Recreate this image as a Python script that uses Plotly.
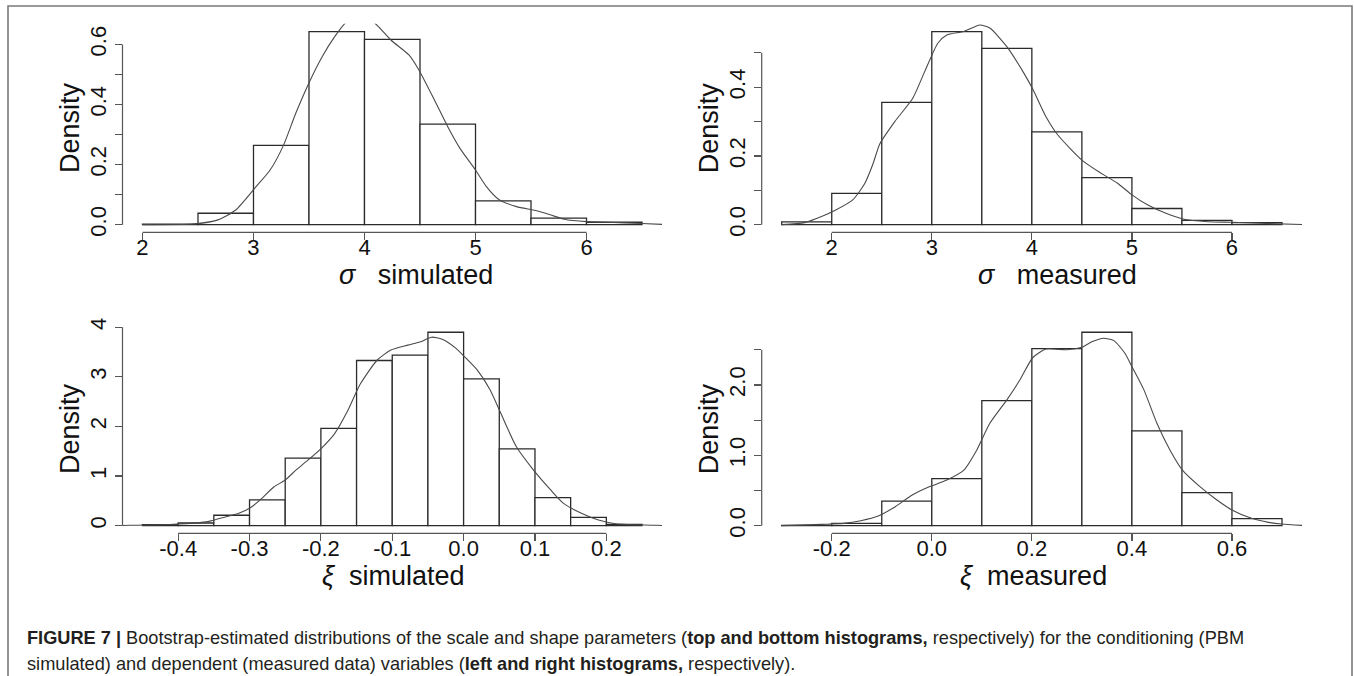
import plotly.graph_objects as go

W, H = 1354, 676

# ---------------- data ----------------
# sigma simulated (top-left)
sig_sim_edges = [2.0, 2.5, 3.0, 3.5, 4.0, 4.5, 5.0, 5.5, 6.0, 6.5]
sig_sim_dens = [0.002, 0.038, 0.264, 0.643, 0.617, 0.335, 0.079, 0.022, 0.008]
sig_sim_kde_x = [2.0, 2.45, 2.68, 2.84, 3.01, 3.15, 3.27, 3.38, 3.51, 3.62, 3.73, 3.83, 3.96,
                 4.09, 4.24, 4.40, 4.49, 4.63, 4.75, 4.86, 5.00, 5.10, 5.21, 5.37, 5.54, 5.68,
                 5.80, 6.00, 6.19, 6.50, 6.75]
sig_sim_kde_y = [0.0, 0.002, 0.016, 0.049, 0.121, 0.182, 0.264, 0.37, 0.48, 0.56, 0.625, 0.672, 0.70,
                 0.672, 0.614, 0.565, 0.515, 0.415, 0.326, 0.254, 0.182, 0.126, 0.084, 0.060, 0.047,
                 0.032, 0.018, 0.010, 0.008, 0.004, 0.0]
sig_sim_xticks = [2, 3, 4, 5, 6]
sig_sim_xlabels = ["2", "3", "4", "5", "6"]
sig_sim_yticks = [0.0, 0.1, 0.2, 0.3, 0.4, 0.5, 0.6]
sig_sim_ylabels = ["0.0", "", "0.2", "", "0.4", "", "0.6"]

# sigma measured (top-right)
sig_mea_edges = [1.5, 2.0, 2.5, 3.0, 3.5, 4.0, 4.5, 5.0, 5.5, 6.0, 6.5]
sig_mea_dens = [0.008, 0.091, 0.356, 0.562, 0.513, 0.270, 0.137, 0.047, 0.0126, 0.006]
sig_mea_kde_x = [1.50, 1.73, 1.91, 2.03, 2.21, 2.33, 2.41, 2.48, 2.63, 2.81, 2.93, 3.06, 3.15, 3.32,
                 3.48, 3.58, 3.75, 3.92, 4.01, 4.14, 4.26, 4.50, 4.69, 4.86, 4.99, 5.16, 5.34, 5.51,
                 5.76, 6.00, 6.28, 6.75]
sig_mea_kde_y = [0.0, 0.006, 0.025, 0.041, 0.072, 0.12, 0.175, 0.235, 0.30, 0.368, 0.446, 0.528, 0.552,
                 0.562, 0.581, 0.572, 0.518, 0.441, 0.394, 0.315, 0.261, 0.188, 0.150, 0.120, 0.089,
                 0.057, 0.033, 0.0165, 0.0087, 0.007, 0.004, 0.0]
sig_mea_xticks = [2, 3, 4, 5, 6]
sig_mea_xlabels = ["2", "3", "4", "5", "6"]
sig_mea_yticks = [0.0, 0.1, 0.2, 0.3, 0.4, 0.5]
sig_mea_ylabels = ["0.0", "", "0.2", "", "0.4", ""]

# xi simulated (bottom-left)
xi_sim_edges = [-0.45, -0.40, -0.35, -0.30, -0.25, -0.20, -0.15, -0.10, -0.05, 0.0, 0.05, 0.10,
                0.15, 0.20, 0.25]
xi_sim_dens = [0.02, 0.054, 0.21, 0.52, 1.36, 1.96, 3.33, 3.44, 3.90, 2.96, 1.55, 0.565, 0.168, 0.027]
xi_sim_kde_x = [-0.49, -0.467, -0.406, -0.357, -0.333, -0.315, -0.30, -0.285, -0.266, -0.25, -0.235,
                -0.22, -0.20, -0.181, -0.163, -0.145, -0.121, -0.102, -0.078, -0.060, -0.045, -0.030,
                -0.011, 0.001, 0.019, 0.037, 0.052, 0.074, 0.098, 0.122, 0.140, 0.165, 0.189, 0.213,
                0.271, 0.29]
xi_sim_kde_y = [0.0, 0.007, 0.027, 0.087, 0.18, 0.25, 0.35, 0.52, 0.78, 0.92, 1.12, 1.30, 1.55, 1.85,
                2.30, 2.85, 3.34, 3.54, 3.64, 3.71, 3.80, 3.76, 3.58, 3.41, 3.14, 2.74, 2.27, 1.59, 1.12,
                0.72, 0.45, 0.25, 0.114, 0.04, 0.007, 0.0]
xi_sim_xticks = [-0.4, -0.3, -0.2, -0.1, 0.0, 0.1, 0.2]
xi_sim_xlabels = ["-0.4", "-0.3", "-0.2", "-0.1", "0.0", "0.1", "0.2"]
xi_sim_yticks = [0, 1, 2, 3, 4]
xi_sim_ylabels = ["0", "1", "2", "3", "4"]

# xi measured (bottom-right)
xi_mea_edges = [-0.3, -0.2, -0.1, 0.0, 0.1, 0.2, 0.3, 0.4, 0.5, 0.6, 0.7]
xi_mea_dens = [0.005, 0.033, 0.35, 0.668, 1.777, 2.517, 2.749, 1.346, 0.469, 0.10]
xi_mea_kde_x = [-0.30, -0.219, -0.176, -0.142, -0.107, -0.073, -0.039, -0.004, 0.030, 0.064, 0.090,
                0.116, 0.150, 0.176, 0.202, 0.228, 0.270, 0.300, 0.321, 0.343, 0.364, 0.386, 0.400,
                0.424, 0.450, 0.476, 0.501, 0.536, 0.570, 0.600, 0.639, 0.673, 0.699, 0.75]
xi_mea_kde_y = [0.0, 0.019, 0.033, 0.071, 0.137, 0.27, 0.436, 0.555, 0.649, 0.79, 1.076, 1.455, 1.787,
                2.07, 2.39, 2.51, 2.50, 2.535, 2.616, 2.664, 2.63, 2.45, 2.26, 1.93, 1.455, 1.076, 0.79,
                0.555, 0.365, 0.223, 0.104, 0.047, 0.024, 0.0]
xi_mea_xticks = [-0.2, 0.0, 0.2, 0.4, 0.6]
xi_mea_xlabels = ["-0.2", "0.0", "0.2", "0.4", "0.6"]
xi_mea_yticks = [0.0, 0.5, 1.0, 1.5, 2.0, 2.5]
xi_mea_ylabels = ["0.0", "", "1.0", "", "2.0", ""]

x_titles = ["<i>σ</i>\u00a0\u00a0\u00a0simulated", "<i>σ</i>\u00a0\u00a0\u00a0measured",
            "<i>ξ</i>\u00a0\u00a0simulated", "<i>ξ</i>\u00a0\u00a0measured"]
y_title = "Density"

caption_line1 = ("<b>FIGURE 7 |</b> Bootstrap-estimated distributions of the scale and shape parameters "
                 "(<b>top and bottom histograms,</b> respectively) for the conditioning (PBM")
caption_line2 = ("simulated) and dependent (measured data) variables (<b>left and right histograms,</b> "
                 "respectively).")

# ---------------- layout geometry (pixels) ----------------
col_px = [(122.5, 662.0), (761.7, 1302.0)]
row_px = [(23.8, 232.4), (324.5, 533.4)]
title_cx = [416.5, 1057.0, 393.6, 1033.0]

FONT = "Liberation Sans, Arial, Helvetica, sans-serif"
BAR_LINE = "#2b2b2b"
KDE_COLOR = "#4a4a4a"
AXIS_COLOR = "#555555"
TEXT_COLOR = "#111111"

panels = [
    dict(edges=sig_sim_edges, dens=sig_sim_dens, kx=sig_sim_kde_x, ky=sig_sim_kde_y,
         xt=sig_sim_xticks, xl=sig_sim_xlabels, yt=sig_sim_yticks, yl=sig_sim_ylabels, r=0, c=0),
    dict(edges=sig_mea_edges, dens=sig_mea_dens, kx=sig_mea_kde_x, ky=sig_mea_kde_y,
         xt=sig_mea_xticks, xl=sig_mea_xlabels, yt=sig_mea_yticks, yl=sig_mea_ylabels, r=0, c=1),
    dict(edges=xi_sim_edges, dens=xi_sim_dens, kx=xi_sim_kde_x, ky=xi_sim_kde_y,
         xt=xi_sim_xticks, xl=xi_sim_xlabels, yt=xi_sim_yticks, yl=xi_sim_ylabels, r=1, c=0),
    dict(edges=xi_mea_edges, dens=xi_mea_dens, kx=xi_mea_kde_x, ky=xi_mea_kde_y,
         xt=xi_mea_xticks, xl=xi_mea_xlabels, yt=xi_mea_yticks, yl=xi_mea_ylabels, r=1, c=1),
]

fig = go.Figure()
layout = dict(
    width=W, height=H, margin=dict(l=0, r=0, t=0, b=0),
    paper_bgcolor="white", plot_bgcolor="white", showlegend=False,
    template="none", font=dict(family=FONT, color=TEXT_COLOR),
)
shapes = []
annotations = []

for i, p in enumerate(panels):
    n = i + 1
    xa = "x" if n == 1 else f"x{n}"
    ya = "y" if n == 1 else f"y{n}"
    edges = p["edges"]
    mids = [(a + b) / 2 for a, b in zip(edges[:-1], edges[1:])]
    widths = [b - a for a, b in zip(edges[:-1], edges[1:])]
    fig.add_trace(go.Bar(x=mids, y=p["dens"], width=widths, xaxis=xa, yaxis=ya,
                         marker=dict(color="white", line=dict(color=BAR_LINE, width=1.3)),
                         hoverinfo="skip"))
    fig.add_trace(go.Scatter(x=p["kx"], y=p["ky"], mode="lines", xaxis=xa, yaxis=ya,
                             line=dict(color=KDE_COLOR, width=1.1, shape="spline", smoothing=0.6),
                             hoverinfo="skip"))
    # R-style ranges: 4% extension
    xr = edges[-1] - edges[0]
    xrange = [edges[0] - 0.04 * xr, edges[-1] + 0.04 * xr]
    ymax = max(p["dens"])
    yrange = [-0.04 * ymax, 1.04 * ymax]
    cx0, cx1 = col_px[p["c"]]
    ry0, ry1 = row_px[p["r"]]
    xdom = [cx0 / W, cx1 / W]
    ydom = [1 - ry1 / H, 1 - ry0 / H]
    key_x = "xaxis" if n == 1 else f"xaxis{n}"
    key_y = "yaxis" if n == 1 else f"yaxis{n}"
    layout[key_x] = dict(domain=xdom, range=xrange, anchor=ya, showgrid=False, zeroline=False,
                         showline=False, ticks="outside", ticklen=7, tickwidth=1.2,
                         tickcolor=AXIS_COLOR, tickmode="array", tickvals=p["xt"], ticktext=p["xl"],
                         ticklabelstandoff=-12,
                         tickfont=dict(size=22, family=FONT, color=TEXT_COLOR), fixedrange=True)
    layout[key_y] = dict(domain=ydom, range=yrange, anchor=xa, showgrid=False, zeroline=False,
                         showline=False, ticks="outside", ticklen=7, tickwidth=1.2,
                         tickcolor=AXIS_COLOR, tickmode="array", tickvals=p["yt"], ticktext=p["yl"],
                         tickangle=-90,
                         tickfont=dict(size=22, family=FONT, color=TEXT_COLOR), fixedrange=True)
    # axis lines spanning first..last tick (R style)
    shapes.append(dict(type="line", xref=xa, yref=f"{ya} domain", x0=p["xt"][0], x1=p["xt"][-1],
                       y0=0, y1=0, line=dict(color=AXIS_COLOR, width=1.2)))
    shapes.append(dict(type="line", xref=f"{xa} domain", yref=ya, x0=0, x1=0,
                       y0=p["yt"][0], y1=p["yt"][-1], line=dict(color=AXIS_COLOR, width=1.2)))
    # titles
    annotations.append(dict(text=x_titles[i], xref="paper", yref="paper",
                            x=title_cx[i] / W, y=1 - (ry1 + 42.5) / H, xanchor="center",
                            yanchor="middle", showarrow=False,
                            font=dict(size=27, family=FONT, color=TEXT_COLOR)))
    annotations.append(dict(text=y_title, xref="paper", yref="paper", textangle=-90,
                            x=(cx0 - 52.5) / W, y=1 - (ry0 + ry1) / 2 / H, xanchor="center",
                            yanchor="middle", showarrow=False,
                            font=dict(size=27, family=FONT, color=TEXT_COLOR)))

# outer frame
shapes.append(dict(type="rect", xref="paper", yref="paper", x0=8 / W, x1=1352 / W,
                   y0=-0.05, y1=1 - 6 / H, line=dict(color="#7a7a7a", width=1.6),
                   fillcolor="rgba(0,0,0,0)", layer="below"))

annotations.append(dict(text=caption_line1, xref="paper", yref="paper", x=25 / W, y=1 - 638 / H,
                        xanchor="left", yanchor="middle", showarrow=False, align="left",
                        font=dict(size=18.2, family=FONT, color="#231f20")))
annotations.append(dict(text=caption_line2, xref="paper", yref="paper", x=25 / W, y=1 - 664 / H,
                        xanchor="left", yanchor="middle", showarrow=False, align="left",
                        font=dict(size=18.2, family=FONT, color="#231f20")))

layout["shapes"] = shapes
layout["annotations"] = annotations
layout["bargap"] = 0
fig.update_layout(**layout)

fig.write_html("out.html", config=dict(displayModeBar=False, staticPlot=True))
